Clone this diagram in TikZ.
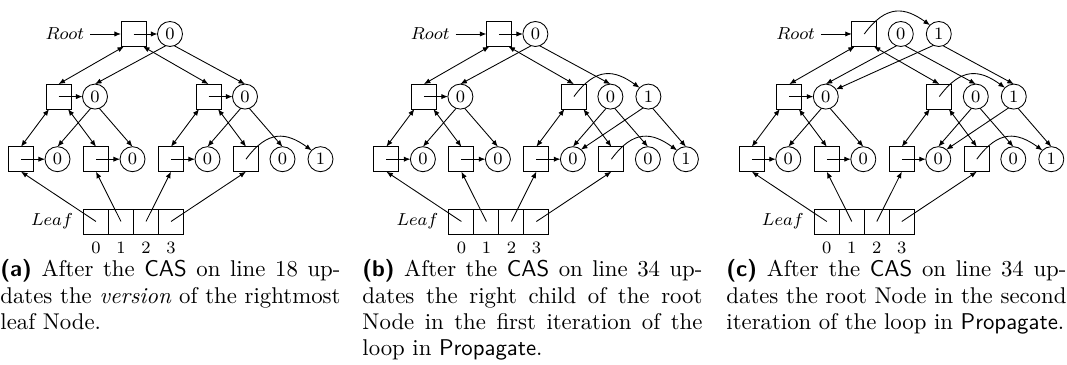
\documentclass[tikz,border=0pt]{standalone}
\usepackage{tikz}
\usetikzlibrary{arrows.meta}
\tikzset{
  box/.style={draw, minimum size=11.52pt, inner sep=0pt, outer sep=0pt},
  ver/.style={draw, circle, minimum size=11.52pt, inner sep=0pt, outer sep=0pt, font=\footnotesize},
  arr/.style={-{Latex[length=3pt,width=2.4pt]}},
  darr/.style={{Latex[length=3pt,width=2.4pt]}-{Latex[length=3pt,width=2.4pt]}},
  lbl/.style={font=\footnotesize, inner sep=0pt},
  captext/.style={text width=156.7pt, align=justify, inner sep=0pt, anchor=base west, font=\fontsize{10.5}{12}\selectfont},
  curv/.style={arr}
}
\newcommand{\treebase}[2]{%
\begin{scope}[shift={(#2,0)}]
\node[lbl, anchor=east] (#1rootlbl) at (84.5,34) {$Root$};
\node[box] (#1r) at (133.5,34) {};
\node[ver] (#1rc0) at (170,34) {0};
\node[box] (#1l) at (58.5,96.6) {};
\node[ver] (#1lc0) at (95,96.6) {0};
\node[box] (#1m) at (208.5,96.6) {};
\node[ver] (#1mc0) at (245,96.6) {0};
\node[box] (#1s1) at (21,159.2) {};
\node[box] (#1s2) at (96,159.2) {};
\node[box] (#1s3) at (171,159.2) {};
\node[box] (#1s4) at (246,159.2) {};
\node[ver] (#1s1c) at (57.5,159.2) {0};
\node[ver] (#1s2c) at (132.5,159.2) {0};
\node[ver] (#1s3c) at (207.5,159.2) {0};
\node[ver] (#1s4c0) at (282.5,159.2) {0};
\node[ver] (#1s4c1) at (320.5,159.2) {1};
\node[lbl] (#1leaflbl) at (52,221.5) {$Leaf$};
\node[box] (#1f0) at (96,221.5) {};
\node[box] (#1f1) at (121,221.5) {};
\node[box] (#1f2) at (146,221.5) {};
\node[box] (#1f3) at (171,221.5) {};
\node[lbl] (#1n0) at (96,248) {0};
\node[lbl] (#1n1) at (121,248) {1};
\node[lbl] (#1n2) at (146,248) {2};
\node[lbl] (#1n3) at (171,248) {3};
\draw[arr, shorten <=2.6pt] (#1rootlbl) -- (#1r);
\draw[darr] ([xshift=-4.38pt]#1r.south) -- (#1l.north);
\draw[darr] ([xshift=4.38pt]#1r.south) -- (#1m.north);
\draw[darr] ([xshift=-4.38pt]#1l.south) -- (#1s1.north);
\draw[darr] ([xshift=4.38pt]#1l.south) -- (#1s2.north);
\draw[darr] ([xshift=-4.38pt]#1m.south) -- (#1s3.north);
\draw[darr] ([xshift=4.38pt]#1m.south) -- (#1s4.north);
\draw[arr] (#1l.center) -- (#1lc0);
\draw[arr] (#1s1.center) -- (#1s1c);
\draw[arr] (#1s2.center) -- (#1s2c);
\draw[arr] (#1s3.center) -- (#1s3c);
\draw[curv] (#1s4.center) .. controls +(22,-30) and +(-25,-18) .. (#1s4c1.135);
\draw[arr] (#1lc0.-110) -- (#1s1c.north);
\draw[arr] (#1lc0.-70) -- (#1s2c.north);
\draw[arr] (#1mc0.-110) -- (#1s3c.north);
\draw[arr] (#1mc0.-70) -- (#1s4c0.north);
\draw[arr] (#1f0.center) -- (#1s1.south);
\draw[arr] (#1f1.center) -- (#1s2.south);
\draw[arr] (#1f2.center) -- (#1s3.south);
\draw[arr] (#1f3.center) -- (#1s4.south);
\end{scope}}
\begin{document}
\begin{tikzpicture}[x=0.4608pt,y=-0.4608pt]
\useasboundingbox (0,0) rectangle (1067,365);
% panel (a)
\treebase{a}{0}
\draw[arr] (ar.center) -- (arc0);
\draw[arr] (arc0.-110) -- (alc0.north);
\draw[arr] (arc0.-70) -- (amc0.north);
\draw[arr] (am.center) -- (amc0);
% panel (b)
\treebase{b}{365.4}
\begin{scope}[shift={(365.4,0)}]
\node[ver] (bmc1) at (283,96.6) {1};
\end{scope}
\draw[arr] (br.center) -- (brc0);
\draw[arr] (brc0.-110) -- (blc0.north);
\draw[arr] (brc0.-70) -- (bmc0.north);
\draw[curv] (bm.center) .. controls +(22,-30) and +(-25,-18) .. (bmc1.135);
\draw[arr] (bmc1.-115) -- (bs3c.50);
\draw[arr] (bmc1.-70) -- (bs4c1.north);
% panel (c)
\treebase{c}{730.8}
\begin{scope}[shift={(730.8,0)}]
\node[ver] (crc1) at (208,34) {1};
\node[ver] (cmc1) at (283,96.6) {1};
\end{scope}
\draw[curv] (cr.center) .. controls +(22,-30) and +(-25,-18) .. (crc1.135);
\draw[arr] (crc0.-110) -- (clc0.north);
\draw[arr] (crc0.-70) -- (cmc0.north);
\draw[arr] (crc1.-115) -- (clc0.35);
\draw[arr] (crc1.-70) -- (cmc1.north);
\draw[curv] (cm.center) .. controls +(22,-30) and +(-25,-18) .. (cmc1.135);
\draw[arr] (cmc1.-115) -- (cs3c.50);
\draw[arr] (cmc1.-70) -- (cs4c1.north);
% captions
\node[captext] (capa) at (0,277) {\textsf{\textbf{(a)}} After the \textsf{CAS} on line 18 up-\linebreak dates the \emph{version} of the rightmost\linebreak leaf Node.};
\node[captext] (capb) at (362,277) {\textsf{\textbf{(b)}} After the \textsf{CAS} on line 34 up-\linebreak dates the right child of the root\linebreak Node in the first iteration of the\linebreak loop in \textsf{Propagate}.};
\node[captext] (capc) at (726,277) {\textsf{\textbf{(c)}} After the \textsf{CAS} on line 34 up-\linebreak dates the root Node in the second\linebreak iteration of the loop in \textsf{Propagate}.};
\end{tikzpicture}
\end{document}
